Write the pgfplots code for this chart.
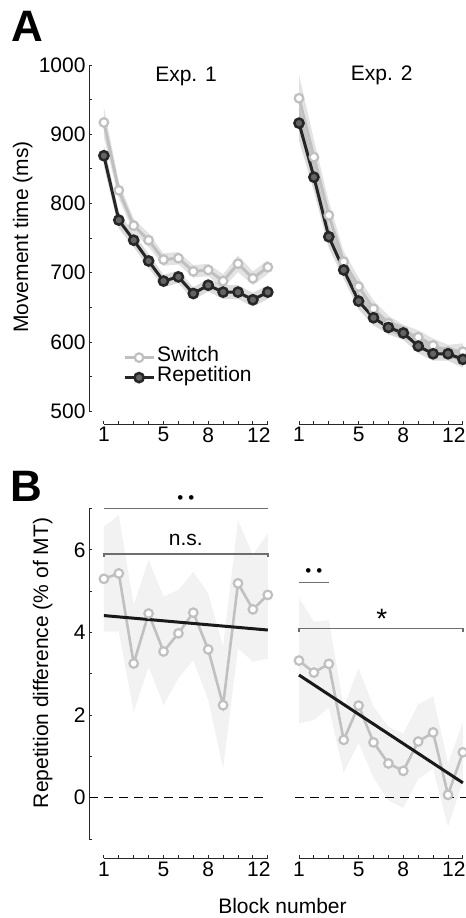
\documentclass[border=0pt]{standalone}
\usepackage{pgfplots}
\pgfplotsset{compat=1.18}
\usepackage{fontspec}
\setmainfont{Liberation Sans}
\definecolor{swg}{RGB}{192,192,192}
\definecolor{repd}{RGB}{38,38,38}
\definecolor{repf}{RGB}{100,100,100}
\definecolor{bandB}{RGB}{242,242,242}
\definecolor{brk}{RGB}{110,110,110}
\definecolor{axc}{RGB}{40,40,40}
\newcommand{\fs}{\fontsize{21bp}{25bp}\selectfont}
\tikzset{
  axl/.style={axc, line width=0.9bp},
  brl/.style={brk, line width=1.4bp},
}
\pgfplotsset{
  base/.style={
    scale only axis, clip=false,
    axis lines*=left, axis line style={draw=none},
    tick align=inside, major tick length=3bp,
    tick style={axc, line width=0.9bp},
    font=\fs, /pgf/number format/assume math mode=true,
    xmin=0, xmax=12.2, width=181.78bp,
    xtick={1,...,12}, xticklabels={1,,,,5,,,8,,,,{12\kern18bp}},
    tick label style={font=\fs},
  },
  top/.style={base, ymin=481.6, ymax=1000, height=359bp,
    ytick={500,550,...,1000}, yticklabels={500,,600,,700,,800,,900,,1000}},
  bot/.style={base, ymin=-1.467, ymax=7.5, height=370.35bp,
    ytick={-1,0,...,7}, yticklabels={,0,,2,,4,,6,}},
  noy/.style={ytick=\empty},
  swline/.style={swg, line width=3bp, mark=*, mark size=4.3bp,
    mark options={fill=white, draw=swg, line width=2.2bp}},
  repline/.style={repd, line width=3bp, mark=*, mark size=4.6bp,
    mark options={fill=repf, draw=repd, line width=2.5bp}},
  bandS/.style={fill=black, fill opacity=0.11, draw=none, forget plot},
  bandR/.style={fill=black, fill opacity=0.14, draw=none, forget plot},
}
\begin{document}
\begin{tikzpicture}
\path[use as bounding box] (0bp,0bp) rectangle (466bp,918bp);

% ---------- A left ----------
\begin{axis}[top, at={(89bp,494bp)}, anchor=south west,
  legend image code/.code={\draw[mark repeat=2,mark phase=2,#1] plot coordinates {(0bp,0bp) (14.5bp,0bp) (29bp,0bp)};},
  legend cell align=left,
  legend style={draw=none, fill=none, at={(axis cs:2.275,563)}, anchor=west,
    inner sep=0pt, row sep=0bp, column sep=2bp, font=\fs,
    nodes={inner sep=0bp, text height=14bp, text depth=6bp}}]
\addplot[bandS] coordinates {(1,939) (2,831) (3,778) (4,757) (5,728) (6,730) (7,711) (8,713) (9,698) (10,725) (11,702) (12,718) (12,698) (11,682) (10,701) (9,678) (8,695) (7,693) (6,712) (5,710) (4,737) (3,758) (2,807) (1,895)} -- cycle;
\addplot[bandR] coordinates {(1,884) (2,788) (3,757) (4,727) (5,697) (6,703) (7,679) (8,691) (9,682) (10,682) (11,671) (12,682) (12,662) (11,651) (10,662) (9,662) (8,673) (7,661) (6,685) (5,679) (4,707) (3,737) (2,764) (1,854)} -- cycle;
\addplot[swline] coordinates {(1,917) (2,819) (3,768) (4,747) (5,719) (6,721) (7,702) (8,704) (9,688) (10,713) (11,692) (12,708)};
\addlegendentry{Switch}
\addplot[repline] coordinates {(1,869) (2,776) (3,747) (4,717) (5,688) (6,694) (7,670) (8,682) (9,672) (10,672) (11,661) (12,672)};
\addlegendentry{Repetition}
\draw[axl] (axis cs:1,481.6) -- (axis cs:12,481.6);
\draw[axl] (axis cs:0,500) -- (axis cs:0,1000);
\end{axis}

% ---------- A right ----------
\begin{axis}[top, noy, at={(284.1bp,494bp)}, anchor=south west]
\addplot[bandS] coordinates {(1,986) (2,892) (3,803) (4,731) (5,693) (6,660) (7,638) (8,625) (9,617) (10,605) (11,596) (12,598) (12,574) (11,576) (10,585) (9,597) (8,605) (7,616) (6,636) (5,667) (4,701) (3,763) (2,842) (1,918)} -- cycle;
\addplot[bandR] coordinates {(1,941) (2,858) (3,768) (4,717) (5,671) (6,646) (7,631) (8,623) (9,604) (10,593) (11,593) (12,587) (12,563) (11,573) (10,573) (9,584) (8,603) (7,611) (6,624) (5,647) (4,691) (3,736) (2,818) (1,891)} -- cycle;
\addplot[swline] coordinates {(1,952) (2,867) (3,783) (4,716) (5,680) (6,648) (7,627) (8,615) (9,607) (10,595) (11,586) (12,586)};
\addplot[repline] coordinates {(1,916) (2,838) (3,752) (4,704) (5,659) (6,635) (7,621) (8,613) (9,594) (10,583) (11,583) (12,575)};
\draw[axl] (axis cs:1,481.6) -- (axis cs:12,481.6);
\end{axis}

% ---------- B left ----------
\begin{axis}[bot, at={(89bp,59.7bp)}, anchor=south west]
\addplot[fill=bandB, draw=none, forget plot] coordinates {(1,6.56) (2,6.84) (3,4.67) (4,5.76) (5,4.87) (6,5.03) (7,5.47) (8,4.95) (9,3.66) (10,6.72) (11,5.88) (12,6.40) (12,3.37) (11,3.29) (10,3.62) (9,0.71) (8,2.37) (7,3.33) (6,2.89) (5,2.24) (4,3.17) (3,2.08) (2,4.02) (1,4.02)} -- cycle;
\draw[black, line width=1.2bp, dash pattern=on 9bp off 6bp] (axis cs:0,0) -- (axis cs:12,0);
\addplot[swline, line width=2.6bp] coordinates {(1,5.30) (2,5.43) (3,3.25) (4,4.46) (5,3.54) (6,3.98) (7,4.48) (8,3.59) (9,2.24) (10,5.19) (11,4.56) (12,4.91)};
\addplot[black!90, line width=3bp] coordinates {(1,4.41) (12,4.06)};
\draw[brl] (axis cs:1,7.0) -- (axis cs:12,7.0);
\draw[brl] (axis cs:1,5.83) -- (axis cs:1,5.9) -- (axis cs:12,5.9) -- (axis cs:12,5.83);
\node[anchor=base, font=\fs] at (axis cs:6.5,6.1) {n.s.};
\node[font=\fontsize{17bp}{17bp}\selectfont, inner sep=0pt] at (axis cs:6.5,7.23) {•\kern5bp•};
\draw[axl] (axis cs:1,-1.467) -- (axis cs:12,-1.467);
\draw[axl] (axis cs:0,-1) -- (axis cs:0,7);
\end{axis}

% ---------- B right ----------
\begin{axis}[bot, noy, at={(284.1bp,59.7bp)}, anchor=south west]
\addplot[fill=bandB, draw=none, forget plot] coordinates {(1,4.83) (2,4.26) (3,4.30) (4,2.20) (5,3.13) (6,2.20) (7,1.72) (8,1.55) (9,2.26) (10,2.45) (11,0.84) (12,1.81) (12,0.39) (11,-0.70) (10,0.70) (9,0.46) (8,-0.25) (7,-0.06) (6,0.48) (5,1.33) (4,0.60) (3,2.18) (2,1.88) (1,1.80)} -- cycle;
\draw[black, line width=1.2bp, dash pattern=on 9bp off 6bp] (axis cs:0.73,0) -- (axis cs:12.2,0);
\addplot[swline, line width=2.6bp] coordinates {(1,3.32) (2,3.03) (3,3.24) (4,1.40) (5,2.23) (6,1.34) (7,0.83) (8,0.65) (9,1.36) (10,1.58) (11,0.07) (12,1.10)};
\addplot[black!90, line width=3bp] coordinates {(1,2.97) (12,0.36)};
\draw[brl] (axis cs:1,5.21) -- (axis cs:3.03,5.21);
\node[font=\fontsize{17bp}{17bp}\selectfont, inner sep=0pt] at (axis cs:2,5.46) {•\kern5bp•};
\draw[brl] (axis cs:1,4.02) -- (axis cs:1,4.10) -- (axis cs:12,4.10) -- (axis cs:12,4.02);
\node[anchor=north, inner sep=0pt, font=\fontsize{28bp}{28bp}\selectfont] at (axis cs:6.55,4.58) {*};
\draw[axl] (axis cs:1,-1.467) -- (axis cs:12,-1.467);
\end{axis}

% ---------- texts ----------
\node[anchor=base, font=\fs] at (186bp,836.3bp) {Exp. 1};
\node[anchor=base, font=\fs] at (381.7bp,837.3bp) {Exp. 2};
\node[anchor=base, font=\fontsize{44bp}{44bp}\selectfont\bfseries] at (27.5bp,876.3bp) {A};
\node[anchor=base, font=\fontsize{44bp}{44bp}\selectfont\bfseries] at (26.3bp,416.3bp) {B};
\node[rotate=90, anchor=base, font=\fs] at (28bp,681bp) {Movement time (ms)};
\node[rotate=90, anchor=base, font=\fs] at (48bp,255bp) {Repetition difference (\% of MT)};
\node[anchor=base, font=\fs, inner sep=0pt] at (282.5bp,4.5bp) {Block number};
\end{tikzpicture}
\end{document}
